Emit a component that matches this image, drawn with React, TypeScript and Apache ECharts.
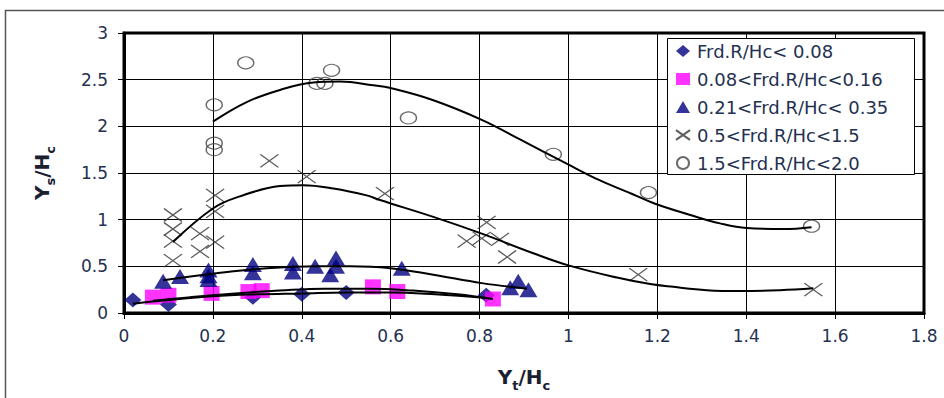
import React, { useEffect, useRef } from "react";
import * as echarts from "echarts";

const seriesNames = [
  "Frd.R/Hc< 0.08",
  "0.08<Frd.R/Hc<0.16",
  "0.21<Frd.R/Hc< 0.35",
  "0.5<Frd.R/Hc<1.5",
  "1.5<Frd.R/Hc<2.0",
];

const diamondPts = [[0.02, 0.14], [0.10, 0.09], [0.29, 0.17], [0.40, 0.20], [0.50, 0.22], [0.815, 0.19]];
const squarePts = [[0.065, 0.17], [0.10, 0.19], [0.197, 0.21], [0.28, 0.23], [0.31, 0.24], [0.56, 0.28], [0.615, 0.23], [0.83, 0.15]];
const trianglePts = [
  [0.088, 0.34], [0.126, 0.39], [0.19, 0.46], [0.19, 0.40], [0.19, 0.36],
  [0.29, 0.52], [0.29, 0.43], [0.38, 0.53], [0.38, 0.44], [0.43, 0.50],
  [0.477, 0.59], [0.477, 0.50], [0.464, 0.41], [0.625, 0.48],
  [0.869, 0.27], [0.887, 0.34], [0.91, 0.25],
];
const crossPts = [
  [0.11, 1.05], [0.11, 0.90], [0.11, 0.77], [0.11, 0.56], [0.171, 0.85], [0.171, 0.66],
  [0.205, 0.76], [0.205, 1.26], [0.205, 1.09], [0.327, 1.63], [0.411, 1.46], [0.587, 1.28],
  [0.771, 0.77], [0.805, 0.80], [0.816, 0.97], [0.846, 0.79], [0.862, 0.60], [1.157, 0.41], [1.551, 0.25],
];
const circlePts = [
  [0.203, 2.23], [0.203, 1.82], [0.203, 1.75], [0.274, 2.68], [0.434, 2.46], [0.452, 2.46],
  [0.467, 2.60], [0.640, 2.09], [0.966, 1.70], [1.18, 1.29], [1.547, 0.93],
];

const circleFit = [
  [0.2, 2.05], [0.276, 2.26], [0.351, 2.39], [0.426, 2.47], [0.486, 2.48], [0.561, 2.44], [0.6, 2.41],
  [0.696, 2.28], [0.805, 2.07], [0.891, 1.86], [0.996, 1.60], [1.071, 1.42], [1.146, 1.27], [1.195, 1.17],
  [1.274, 1.05], [1.341, 0.96], [1.401, 0.91], [1.484, 0.90], [1.547, 0.92],
];
const crossFit = [
  [0.11, 0.76], [0.2, 1.12], [0.261, 1.25], [0.351, 1.36], [0.403, 1.37], [0.471, 1.335], [0.546, 1.26],
  [0.576, 1.21], [0.696, 1.03], [0.805, 0.85], [0.921, 0.64], [1.0, 0.51], [1.109, 0.38], [1.184, 0.31],
  [1.236, 0.28], [1.311, 0.245], [1.386, 0.235], [1.476, 0.245], [1.551, 0.265],
];
const triFit = [[0.088, 0.35], [0.2, 0.42], [0.321, 0.48], [0.441, 0.50], [0.508, 0.50], [0.599, 0.48], [0.696, 0.41], [0.805, 0.32], [0.906, 0.26]];
const diaFit = [[0.02, 0.10], [0.1, 0.14], [0.2, 0.18], [0.3, 0.20], [0.4, 0.21], [0.5, 0.22], [0.6, 0.22], [0.7, 0.20], [0.815, 0.16]];
const sqFit = [[0.065, 0.13], [0.15, 0.17], [0.25, 0.21], [0.35, 0.24], [0.45, 0.26], [0.55, 0.26], [0.65, 0.24], [0.75, 0.20], [0.83, 0.15]];

const xTicks = { min: 0, max: 1.8, interval: 0.2 };
const yTicks = { min: 0, max: 3, interval: 0.5 };

const FONT = "DejaVu Sans";
const LABEL_COLOR = "#243050";
const CROSS = "path://M0,0L20,14M20,0L0,14";

export default function App() {
  const ref = useRef<HTMLDivElement>(null);
  useEffect(() => {
    if (!ref.current) return;
    const chart = echarts.init(ref.current, undefined, { renderer: "svg" });
    const fitLine = (data: number[][]) => ({
      type: "line",
      data,
      smooth: 0.4,
      showSymbol: false,
      symbol: "none",
      z: 5,
      lineStyle: { color: "#000", width: 2 },
      silent: true,
    });
    const richName = {
      b: { fontFamily: FONT, fontSize: 20, fontWeight: "bold", color: "#1a2030", verticalAlign: "bottom", lineHeight: 22 },
      s: { fontFamily: FONT, fontSize: 13, fontWeight: "bold", color: "#1a2030", verticalAlign: "bottom", lineHeight: 22, padding: [0, 0, -5, 0] },
    };
    chart.setOption({
      animation: false,
      backgroundColor: "#fff",
      graphic: [
        {
          type: "rect",
          shape: { x: 5.5, y: 10.5, width: 1000, height: 500 },
          style: { fill: "none", stroke: "#555", lineWidth: 1.5 },
          silent: true,
          z: -10,
        },
        {
          type: "rect",
          shape: { x: 667.5, y: 38.5, width: 247, height: 136 },
          style: { fill: "#fff", stroke: "#000", lineWidth: 1 },
          silent: true,
          z: 10,
        },
      ],
      grid: {
        left: 124,
        right: 20,
        top: 33,
        bottom: 85,
        show: true,
        borderColor: "#000",
        borderWidth: 3,
        backgroundColor: "transparent",
      },
      legend: {
        orient: "vertical",
        left: 667,
        top: 38,
        z: 20,
        padding: [4, 8, 3, 8],
        itemGap: 10,
        itemWidth: 14,
        itemHeight: 12,
        data: seriesNames,
        textStyle: {
          fontFamily: FONT,
          fontSize: 18,
          lineHeight: 18,
          color: LABEL_COLOR,
          padding: [0, 0, 0, 2],
        },
      },
      xAxis: {
        type: "value",
        min: xTicks.min,
        max: xTicks.max,
        interval: xTicks.interval,
        name: "{b|Y}{s|t}{b|/H}{s|c}",
        nameLocation: "middle",
        nameGap: 52,
        nameTextStyle: { rich: richName },
        axisLine: { show: true, onZero: false, lineStyle: { color: "#000", width: 3 } },
        axisTick: { show: true, length: 6, lineStyle: { color: "#000", width: 1 } },
        axisLabel: { fontFamily: FONT, fontSize: 17, color: LABEL_COLOR, margin: 14 },
        splitLine: { show: true, lineStyle: { color: "#000", width: 1 } },
      },
      yAxis: {
        type: "value",
        min: yTicks.min,
        max: yTicks.max,
        interval: yTicks.interval,
        name: "{b|Y}{s|s}{b|/H}{s|c}",
        nameLocation: "middle",
        nameGap: 72,
        nameRotate: 90,
        nameTextStyle: { rich: richName },
        axisLine: { show: true, onZero: false, lineStyle: { color: "#000", width: 3 } },
        axisTick: { show: true, length: 6, lineStyle: { color: "#000", width: 1 } },
        axisLabel: { fontFamily: FONT, fontSize: 17, color: LABEL_COLOR, margin: 16 },
        splitLine: { show: true, lineStyle: { color: "#000", width: 1 } },
      },
      series: [
        {
          name: seriesNames[0],
          type: "scatter",
          data: diamondPts,
          symbol: "diamond",
          symbolSize: [17, 15],
          itemStyle: { color: "#000080" },
          z: 3,
        },
        {
          name: seriesNames[1],
          type: "scatter",
          data: squarePts,
          symbol: "rect",
          symbolSize: [16, 15],
          itemStyle: { color: "#ff00ff" },
          z: 3,
        },
        {
          name: seriesNames[2],
          type: "scatter",
          data: trianglePts,
          symbol: "triangle",
          symbolSize: [18, 15],
          itemStyle: { color: "#000080" },
          z: 3,
        },
        {
          name: seriesNames[3],
          type: "scatter",
          data: crossPts,
          symbol: CROSS,
          symbolSize: [18, 13],
          itemStyle: { color: "transparent", borderColor: "#333", borderWidth: 1.3 },
          z: 3,
        },
        {
          name: seriesNames[4],
          type: "scatter",
          data: circlePts,
          symbol: "circle",
          symbolSize: [16, 12],
          itemStyle: { color: "transparent", borderColor: "#444", borderWidth: 1.3 },
          z: 3,
        },
        fitLine(diaFit),
        fitLine(sqFit),
        fitLine(triFit),
        fitLine(crossFit),
        fitLine(circleFit),
      ],
    });
    return () => chart.dispose();
  }, []);
  return <div ref={ref} style={{ width: 944, height: 398, position: "absolute", left: 0, top: 0 }} />;
}
